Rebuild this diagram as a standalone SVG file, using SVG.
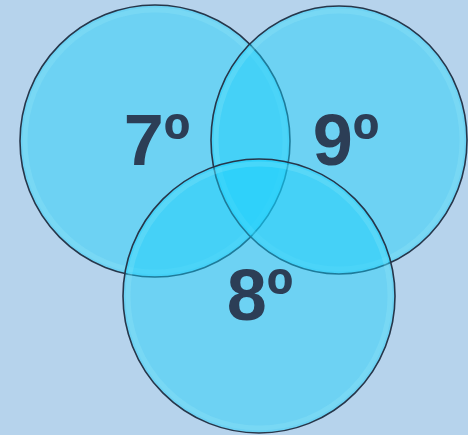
<svg xmlns="http://www.w3.org/2000/svg" width="468" height="435" viewBox="0 0 468 435">
<style>
.c{fill:#13d0fd;fill-opacity:0.45;stroke:#26364a;stroke-width:1.6}
.rim{fill:none;stroke:#9eeefc;stroke-width:5;stroke-opacity:0.22}
.t{font-family:"Liberation Sans",Arial,sans-serif;font-weight:bold;font-size:72px;fill:#2c3e56;text-anchor:middle}
</style>
<rect width="468" height="435" fill="#b6d3ec"/>
<g id="circle-7">
<ellipse class="c" cx="155" cy="141" rx="135" ry="136"/>
<ellipse class="rim" cx="155" cy="141" rx="130" ry="131"/>
</g>
<g id="circle-9">
<ellipse class="c" cx="339" cy="140" rx="128" ry="134"/>
<ellipse class="rim" cx="339" cy="140" rx="123" ry="129"/>
</g>
<g id="circle-8">
<ellipse class="c" cx="259" cy="296" rx="136" ry="137"/>
<ellipse class="rim" cx="259" cy="296" rx="131" ry="132"/>
</g>
<g id="labels">
<text class="t" x="157" y="165">7º</text>
<text class="t" x="346" y="165">9º</text>
<text class="t" x="260" y="320">8º</text>
</g>
<g id="connectors"/>
</svg>
